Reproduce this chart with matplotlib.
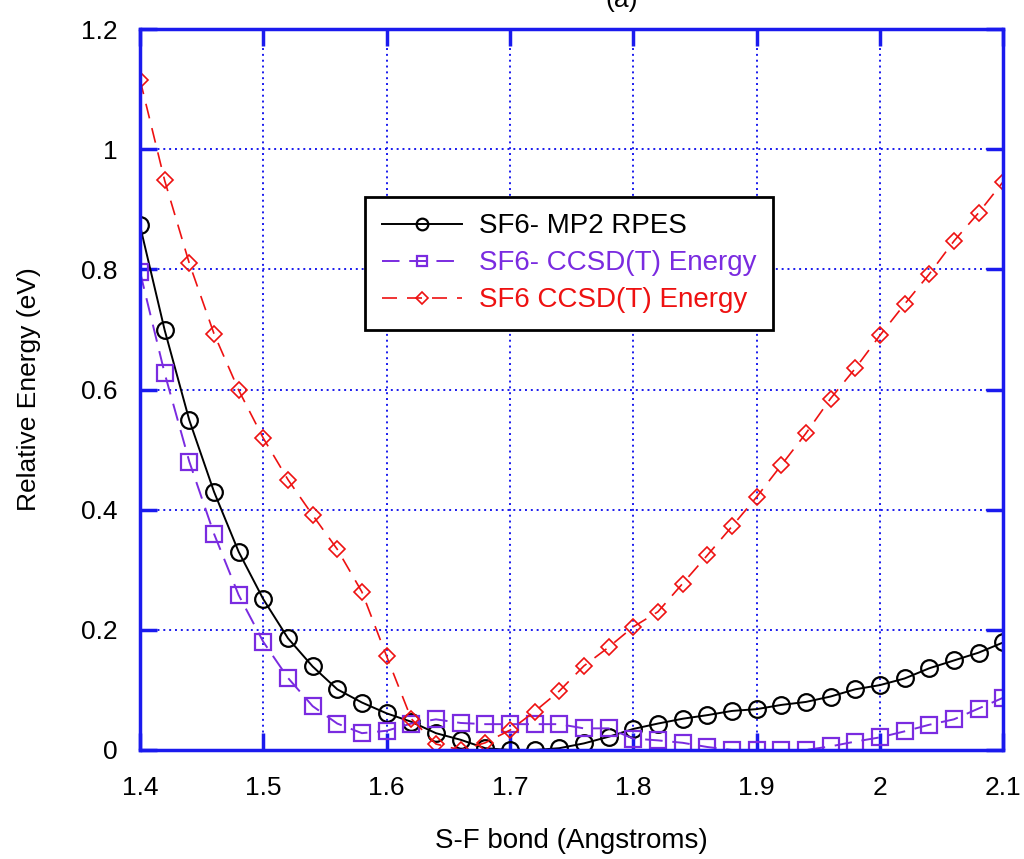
import matplotlib.pyplot as plt
import numpy as np

plt.rcParams['font.family'] = ['Liberation Sans', 'DejaVu Sans']

# S-F bond length grid (Angstroms)
bond = np.round(np.arange(1.40, 2.1001, 0.02), 2)

# relative energies (eV)
mp2_anion = [0.873, 0.699, 0.549, 0.430, 0.330, 0.251, 0.186, 0.139, 0.101, 0.079,
             0.061, 0.047, 0.028, 0.017, 0.003, 0.000, 0.000, 0.003, 0.011, 0.022,
             0.035, 0.044, 0.052, 0.058, 0.065, 0.068, 0.075, 0.080, 0.089, 0.101,
             0.108, 0.119, 0.136, 0.149, 0.162, 0.179]
ccsd_anion = [0.796, 0.627, 0.480, 0.360, 0.258, 0.180, 0.120, 0.073, 0.044, 0.028,
              0.032, 0.044, 0.051, 0.045, 0.043, 0.043, 0.043, 0.043, 0.036, 0.036,
              0.019, 0.016, 0.012, 0.005, 0.000, 0.000, 0.000, 0.000, 0.006, 0.014,
              0.021, 0.031, 0.042, 0.051, 0.069, 0.087]
ccsd_neutral = [1.116, 0.948, 0.810, 0.693, 0.599, 0.519, 0.450, 0.391, 0.334, 0.263,
                0.156, 0.052, 0.010, 0.000, 0.012, 0.033, 0.064, 0.098, 0.140, 0.171,
                0.205, 0.230, 0.277, 0.324, 0.372, 0.421, 0.474, 0.527, 0.585, 0.635,
                0.690, 0.742, 0.792, 0.847, 0.894, 0.946]

labels = ['SF6- MP2 RPES', 'SF6- CCSD(T) Energy', 'SF6 CCSD(T) Energy']
colors = ['black', '#7a2be0', '#ee1111']

fig = plt.figure(figsize=(10.24, 8.59), dpi=100)
ax = fig.add_axes([0.1367, 0.1269, 0.843, 0.8393])

ax.plot(bond, mp2_anion, '-', color=colors[0], lw=1.4, marker='o', ms=12,
        mfc='none', mew=1.6, label=labels[0])
ax.plot(bond, ccsd_anion, color=colors[1], lw=1.4, ls=(0, (9, 5)), marker='s', ms=11,
        mfc='none', mew=1.6, label=labels[1])
ax.plot(bond, ccsd_neutral, color=colors[2], lw=1.2, ls=(0, (9, 6)), marker='D', ms=8.5,
        mfc='none', mew=1.2, label=labels[2])

ax.set_xlim(1.4, 2.1)
ax.set_ylim(0, 1.2)
ax.set_xticks(np.arange(1.4, 2.101, 0.1))
ax.set_xticklabels(['1.4', '1.5', '1.6', '1.7', '1.8', '1.9', '2', '2.1'])
ax.set_yticks(np.arange(0, 1.201, 0.2))
ax.set_yticklabels(['0', '0.2', '0.4', '0.6', '0.8', '1', '1.2'])

ax.grid(True, color='#1a1aee', ls=(0, (1, 2)), lw=1.4)
for s in ax.spines.values():
    s.set_color('#1a1aee')
    s.set_linewidth(2.5)
ax.tick_params(direction='in', length=12, width=2.5, color='#1a1aee',
               top=True, right=True, labelsize=19)
ax.tick_params(axis='x', pad=19)
ax.tick_params(axis='y', pad=16)

ax.set_xlabel('S-F bond (Angstroms)', fontsize=20, labelpad=20)
ax.set_ylabel('Relative Energy (eV)', fontsize=19, labelpad=29)

leg = ax.legend(loc='center', bbox_to_anchor=(0.497, 0.675), fontsize=20,
                fancybox=False, framealpha=1, edgecolor='black',
                handlelength=2.9, handletextpad=0.6, markerscale=0.7,
                borderpad=0.6, labelspacing=0.4, borderaxespad=0)
leg.get_frame().set_linewidth(2)
for txt, c in zip(leg.get_texts(), colors):
    txt.set_color(c)

fig.text(0.607, 1.0, '(a)', fontsize=19, ha='center', va='center')

fig.savefig('out.png', dpi=100)
